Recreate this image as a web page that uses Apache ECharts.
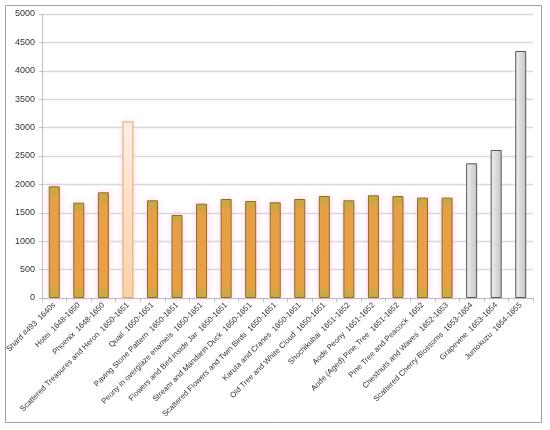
<!DOCTYPE html>
<html>
<head>
<meta charset="utf-8">
<script src="https://cdn.jsdelivr.net/npm/echarts@6/dist/echarts.min.js"></script>
<style>
html,body{margin:0;padding:0;background:#fff;}
#c{width:550px;height:430px;}
</style>
</head>
<body>
<div id="c"></div>
<script>
const categories = [
  'Shard #493  1640s',
  'Hotei  1648-1650',
  'Phoenix  1648-1650',
  'Scattered Treasures and Heron  1650-1651',
  'Quail  1650-1651',
  'Paving Stone Pattern  1650-1651',
  'Peony in overglaze enamels  1650-1651',
  'Flowers and Bird inside Jar  1650-1651',
  'Stream and Mandarin Duck  1650-1651',
  'Scattered Flowers and Twin Birds  1650-1651',
  'Karuta and Cranes  1650-1651',
  'Old Tree and White Cloud  1650-1651',
  'Shochikubai  1651-1652',
  'Aode Peony  1651-1652',
  'Aode (Aged) Pine Tree  1651-1652',
  'Pine Tree and Peacock  1652',
  'Chestnuts and Waves  1652-1653',
  'Scattered Cherry Blossoms  1653-1654',
  'Grapevine  1653-1654',
  'Jumokuzu  1654-1655'
];
const values = [1966, 1678, 1860, 3110, 1720, 1461, 1660, 1743, 1708, 1685,
                1743, 1796, 1720, 1808, 1796, 1767, 1767, 2371, 2606, 4349];
const groups = ['A','A','A','B','A','A','A','A','A','A',
                'A','A','A','A','A','A','A','C','C','C'];
const yTicks = {min: 0, max: 5000, interval: 500};

const styles = {
  A: {
    color: {type:'linear', x:0, y:0, x2:0, y2:1, colorStops:[
      {offset:0, color:'#c6aa3a'}, {offset:0.06, color:'#cba63c'},
      {offset:0.11, color:'#e7a03e'}, {offset:0.88, color:'#e9a03c'},
      {offset:0.93, color:'#cbaa3c'}, {offset:1, color:'#c6aa3a'}]},
    borderColor:'#8c6f22', borderWidth:1,
    shadowColor:'rgba(255,160,230,0.45)', shadowBlur:7
  },
  B: {
    color: {type:'linear', x:0, y:0, x2:0, y2:1, colorStops:[
      {offset:0, color:'#fff2e6'}, {offset:0.5, color:'#fde0c4'}, {offset:1, color:'#f8d4a8'}]},
    borderColor:'#e2aa60', borderWidth:1,
    shadowColor:'rgba(255,170,230,0.35)', shadowBlur:7
  },
  C: {
    color: {type:'linear', x:0, y:0, x2:1, y2:0, colorStops:[
      {offset:0, color:'#f0f0f0'}, {offset:1, color:'#c4c4c4'}]},
    borderColor:'#555555', borderWidth:1
  }
};

const chart = echarts.init(document.getElementById('c'));
chart.setOption({
  animation:false,
  backgroundColor:'#ffffff',
  graphic:[{type:'rect', shape:{x:5.5, y:5.5, width:536, height:417},
    style:{fill:'none', stroke:'#a0a0a0', lineWidth:1}, silent:true}],
  grid:{left:42, right:17, top:14, bottom:132, containLabel:false},
  xAxis:{
    type:'category', data:categories,
    axisLine:{show:true, lineStyle:{color:'#bfbfbf'}},
    axisTick:{show:true, length:4, lineStyle:{color:'#bfbfbf'}},
    axisLabel:{interval:0, rotate:45, fontSize:7.8, color:'#333',
      fontFamily:'"Liberation Sans Narrow","Liberation Sans",sans-serif', margin:6}
  },
  yAxis:{
    type:'value', min:yTicks.min, max:yTicks.max, interval:yTicks.interval,
    axisLine:{show:true, lineStyle:{color:'#bfbfbf'}},
    axisTick:{show:true, length:3, lineStyle:{color:'#bfbfbf'}},
    axisLabel:{fontSize:9, color:'#333', margin:7,
      formatter:(v)=>String(v),
      fontFamily:'"Liberation Sans Narrow","Liberation Sans",sans-serif'},
    splitLine:{lineStyle:{color:'#d9d9d9', width:1.3}}
  },
  series:[{
    type:'bar', barWidth:11,
    data: values.map((v,i)=>({value:v, itemStyle:styles[groups[i]]}))
  }]
});
</script>
</body>
</html>
